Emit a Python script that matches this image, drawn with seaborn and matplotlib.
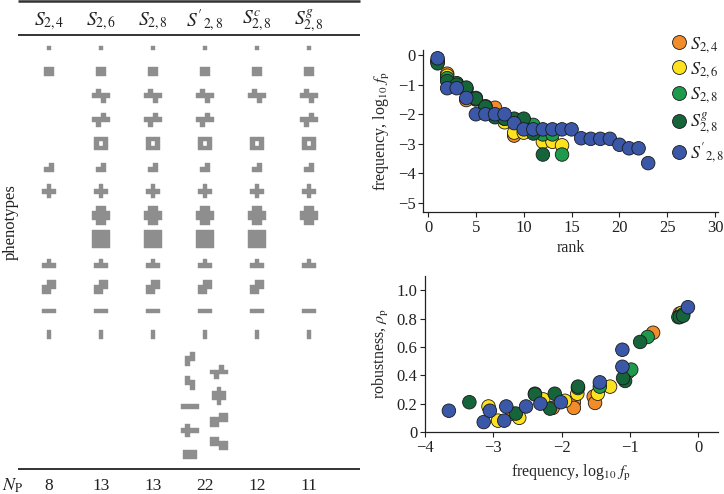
import numpy as np
import pandas as pd
import matplotlib
matplotlib.use("Agg")
import matplotlib.pyplot as plt
from matplotlib.patches import Rectangle
from matplotlib.collections import PatchCollection
from matplotlib.lines import Line2D
from matplotlib.ticker import FixedLocator, FuncFormatter
import seaborn as sns

# ---------------- data ----------------
set_labels = [r"$S_{2,4}$", r"$S_{2,6}$", r"$S_{2,8}$", r"$S'_{2,8}$", r"$S^{c}_{2,8}$", r"$S^{g}_{2,8}$"]
n_phenotypes = [8, 13, 13, 22, 12, 11]

# polyomino phenotypes ('#' = tile, rows separated by '/')
shapes = [
    "#",
    "##/##",
    ".#../####/..#.",
    "..#./####/.#..",
    "###/#.#/###",
    ".#/##",
    ".#./###/.#.",
    ".##./####/####/.##.",
    "####/####/####/####",
    ".#./###",
    ".##/###/##.",
    "###",
    "#/#",
]
presence = [
    [1, 1, 0, 0, 0, 1, 1, 0, 0, 1, 1, 1, 1],
    [1, 1, 1, 1, 1, 1, 1, 1, 1, 1, 1, 1, 1],
    [1, 1, 1, 1, 1, 1, 1, 1, 1, 1, 1, 1, 1],
    [1, 1, 1, 1, 1, 1, 1, 1, 1, 1, 1, 1, 1],
    [1, 1, 1, 0, 1, 1, 1, 1, 1, 1, 1, 1, 1],
    [1, 1, 1, 1, 1, 1, 1, 1, 0, 1, 0, 1, 1],
]
extra_left = [".#/##/#.", "#./##/.#", "####", ".#../####/.#..", "###/###"]
extra_right = ["..#./####/.#..", ".#./###/###/.#.", "..##/####/##..", "##../####/..##"]

legend_sets = [r"$S_{2,4}$", r"$S_{2,6}$", r"$S_{2,8}$", r"$S^{g}_{2,8}$", r"$S'_{2,8}$"]
set_colors = ["#F28C28", "#FFE21F", "#1E9A4C", "#16653A", "#3A57A8"]

# top panel: log10 frequency vs rank
rank_s24 = [1, 2, 3, 4, 5, 6, 7, 8, 9]
logf_s24 = [-0.20, -0.63, -0.97, -1.52, -1.50, -1.76, -1.78, -2.22, -2.72]
rank_s26 = [1, 2, 3, 4, 5, 6, 7, 8, 9, 10, 11, 12, 13, 14]
logf_s26 = [-0.20, -0.70, -0.97, -1.15, -1.48, -1.78, -2.08, -2.27, -2.62, -2.62, -2.60, -2.93, -2.93, -3.05]
rank_s28 = [1, 2, 3, 4, 5, 6, 7, 8, 9, 10, 11, 12, 13, 14]
logf_s28 = [-0.24, -0.78, -0.95, -1.12, -1.45, -1.73, -2.05, -2.15, -2.20, -2.20, -2.36, -2.68, -2.68, -3.36]
rank_s28g = [1, 2, 3, 4, 5, 6, 7, 8, 9, 10, 11, 12]
logf_s28g = [-0.28, -0.88, -1.00, -1.10, -1.47, -1.75, -2.10, -2.15, -2.15, -2.15, -2.65, -3.36]
rank_s28p = list(range(1, 24))
logf_s28p = [-0.11, -1.12, -1.12, -1.45, -2.00, -2.00, -2.00, -2.00, -2.30, -2.51, -2.51, -2.51,
             -2.51, -2.51, -2.51, -2.81, -2.83, -2.83, -2.83, -3.03, -3.15, -3.15, -3.65]

# bottom panel: robustness vs log10 frequency
bf_s24 = [-2.72, -2.13, -1.82, -1.82, -1.53, -1.51, -0.66, -0.27]
rho_s24 = [0.13, 0.17, 0.21, 0.17, 0.25, 0.205, 0.70, 0.835]
bf_s26 = [-3.07, -2.93, -2.62, -2.27, -1.95, -1.77, -1.47, -1.29, -1.03, -0.24]
rho_s26 = [0.18, 0.08, 0.10, 0.23, 0.22, 0.27, 0.27, 0.32, 0.42, 0.84]
bf_s28 = [-2.39, -1.76, -1.44, -0.98, -0.74, -0.29, -0.22]
rho_s28 = [0.27, 0.31, 0.32, 0.44, 0.67, 0.81, 0.83]
bf_s28g = [-3.35, -2.67, -2.39, -2.17, -2.10, -1.76, -1.07, -1.10, -0.85, -0.27, -0.22]
rho_s28g = [0.21, 0.13, 0.265, 0.165, 0.27, 0.32, 0.36, 0.38, 0.635, 0.81, 0.82]
bf_s28p = [-3.65, -3.14, -3.05, -2.81, -2.84, -2.52, -2.31, -2.01, -1.44, -1.11, -1.11, -0.15]
rho_s28p = [0.15, 0.07, 0.15, 0.18, 0.08, 0.18, 0.20, 0.21, 0.35, 0.46, 0.58, 0.88]

# ---------------- style ----------------
sns.set_style("ticks")
plt.rcParams["font.family"] = ["Liberation Serif", "DejaVu Serif"]
plt.rcParams["mathtext.fontset"] = "stix"
plt.rcParams["axes.edgecolor"] = "#222222"
plt.rcParams["xtick.color"] = "#222222"
plt.rcParams["ytick.color"] = "#222222"
plt.rcParams["text.color"] = "#222222"

GRAY = "#8e8e8e"
FS = 11.5
TFS = 12

fig = plt.figure(figsize=(7.24, 4.94), dpi=100)

# ---------------- left: phenotype table ----------------
ax_t = fig.add_axes([0, 0, 370 / 724, 1])
ax_t.set_xlim(0, 370)
ax_t.set_ylim(494, 0)
ax_t.axis("off")
COL_X = 49 + 52 * np.arange(6)
ROW_Y = 48 + 23.9 * np.arange(13)
U = 4.6


def draw_shape(ax, pattern, cx, cy):
    rows = pattern.split("/")
    h, w = len(rows), len(rows[0])
    x0, y0 = cx - w * U / 2, cy - h * U / 2
    cells = []
    for i, r in enumerate(rows):
        for j, ch in enumerate(r):
            if ch == "#":
                cells.append(Rectangle((x0 + j * U, y0 + i * U), U, U))
    ax.add_collection(PatchCollection(cells, facecolor=GRAY, edgecolor=GRAY, linewidth=0.3))


for c in range(6):
    for r in range(13):
        if presence[c][r]:
            draw_shape(ax_t, shapes[r], COL_X[c], ROW_Y[r])
for k, s in enumerate(extra_left):
    draw_shape(ax_t, s, COL_X[3] - 15, 48 + 23.9 * (13 + k))
for k, s in enumerate(extra_right):
    draw_shape(ax_t, s, COL_X[3] + 14, 48 + 23.9 * (13.55 + k))

ax_t.plot([18, 360], [1.5, 1.5], color="#333333", lw=1.8, solid_capstyle="butt")
ax_t.plot([18, 360], [35, 35], color="#333333", lw=1.4, solid_capstyle="butt")
ax_t.plot([18, 360], [469, 469], color="#333333", lw=1.4, solid_capstyle="butt")
for c in range(6):
    ax_t.text(COL_X[c], 21, set_labels[c], ha="center", va="center", fontsize=14)
    ax_t.text(COL_X[c], 486, str(n_phenotypes[c]), ha="center", va="center", fontsize=12.5)
ax_t.text(13, 486, r"$N_{\mathrm{P}}$", ha="center", va="center", fontsize=13)
ax_t.text(11, 222, "phenotypes", ha="center", va="center", rotation=90, fontsize=12)

# ---------------- right panels ----------------
df_top = pd.concat([
    pd.DataFrame({"rank": rank_s24, "logf": logf_s24, "set": legend_sets[0]}),
    pd.DataFrame({"rank": rank_s26, "logf": logf_s26, "set": legend_sets[1]}),
    pd.DataFrame({"rank": rank_s28, "logf": logf_s28, "set": legend_sets[2]}),
    pd.DataFrame({"rank": rank_s28g, "logf": logf_s28g, "set": legend_sets[3]}),
    pd.DataFrame({"rank": rank_s28p, "logf": logf_s28p, "set": legend_sets[4]}),
], ignore_index=True)
df_bot = pd.concat([
    pd.DataFrame({"logf": bf_s24, "rho": rho_s24, "set": legend_sets[0]}),
    pd.DataFrame({"logf": bf_s26, "rho": rho_s26, "set": legend_sets[1]}),
    pd.DataFrame({"logf": bf_s28, "rho": rho_s28, "set": legend_sets[2]}),
    pd.DataFrame({"logf": bf_s28g, "rho": rho_s28g, "set": legend_sets[3]}),
    pd.DataFrame({"logf": bf_s28p, "rho": rho_s28p, "set": legend_sets[4]}),
], ignore_index=True)
pal = dict(zip(legend_sets, set_colors))

ax1 = fig.add_axes([0.5843, 0.5709, 0.4075, 0.3279])
sns.scatterplot(data=df_top, x="rank", y="logf", hue="set", hue_order=legend_sets, palette=pal,
                s=95, edgecolor="#1a1a1a", linewidth=0.6, legend=False, ax=ax1, zorder=3, clip_on=False)
ax1.set_xlim(-0.52, 30.3)
ax1.set_ylim(-5.3, 0.17)
ax1.xaxis.set_major_locator(FixedLocator([0, 5, 10, 15, 20, 25, 30]))
ax1.yaxis.set_major_locator(FixedLocator([0, -1, -2, -3, -4, -5]))
ax1.yaxis.set_major_formatter(FuncFormatter(lambda v, p: "0" if v == 0 else "\u2212%d" % abs(v)))
ax1.set_xlabel("rank", fontsize=FS, labelpad=3)
ax1.set_ylabel(r"frequency, log$_{10}$ $f_{\mathrm{p}}$", fontsize=FS, labelpad=4)

ax2 = fig.add_axes([0.587, 0.1255, 0.4047, 0.3158])
sns.scatterplot(data=df_bot, x="logf", y="rho", hue="set", hue_order=legend_sets, palette=pal,
                s=95, edgecolor="#1a1a1a", linewidth=0.6, legend=False, ax=ax2, zorder=3, clip_on=False)
ax2.set_xlim(-4.0, 0.29)
ax2.set_ylim(0, 1.1)
ax2.xaxis.set_major_locator(FixedLocator([-4, -3, -2, -1, 0]))
ax2.xaxis.set_major_formatter(FuncFormatter(lambda v, p: "0" if v == 0 else "\u2212%d" % abs(v)))
ax2.yaxis.set_major_locator(FixedLocator([0, 0.2, 0.4, 0.6, 0.8, 1.0]))
ax2.yaxis.set_major_formatter(FuncFormatter(lambda v, p: "0" if abs(v) < 1e-9 else "%.1f" % v))
ax2.set_xlabel(r"frequency, log$_{10}$ $f_{\mathrm{p}}$", fontsize=FS, labelpad=5)
ax2.set_ylabel(r"robustness, $\rho_{\mathrm{p}}$", fontsize=FS, labelpad=4)

for ax in (ax1, ax2):
    sns.despine(ax=ax)
    ax.tick_params(direction="out", length=3.5, width=0.8, labelsize=TFS, pad=2)
    for sp in ("left", "bottom"):
        ax.spines[sp].set_linewidth(0.9)

handles = [Line2D([], [], marker="o", ls="", markerfacecolor=c, markeredgecolor="#1a1a1a",
                  markeredgewidth=0.6, markersize=10) for c in set_colors]
fig.legend(handles, legend_sets, loc="upper left", bbox_to_anchor=(0.925, 0.93), frameon=False,
           fontsize=13, handlelength=1.0, handletextpad=0.15, labelspacing=0.3, borderpad=0,
           borderaxespad=0)

fig.savefig("out.png", dpi=100)
